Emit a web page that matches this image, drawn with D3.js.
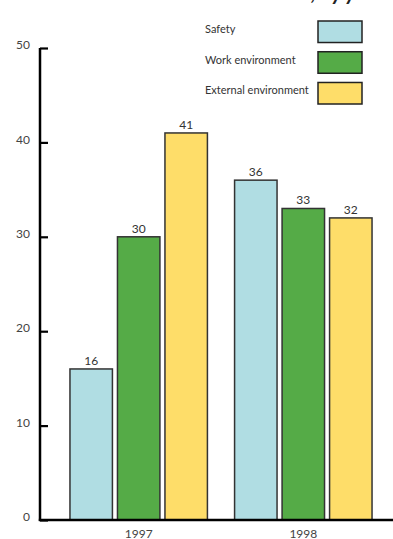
<!DOCTYPE html>
<html>
<head>
<meta charset="utf-8">
<script src="https://cdn.jsdelivr.net/npm/d3@7"></script>
<style>
  html, body { margin: 0; padding: 0; background: #fff; }
  svg { display: block; font-family: "Lato", "DejaVu Sans", sans-serif; }
</style>
</head>
<body>
<svg id="chart" width="393" height="539"></svg>
<script>
// Incidents per category, by year
const years = ["1997", "1998"];
const seriesNames = ["Safety", "Work environment", "External environment"];
const seriesColors = ["#b0dde3", "#55ab47", "#fedd69"];
const safety = [16, 36];
const workEnvironment = [30, 33];
const externalEnvironment = [41, 32];
const yTicks = [0, 10, 20, 30, 40, 50];

const seriesValues = [safety, workEnvironment, externalEnvironment];
const rows = years.map((yr, i) => ({
  year: yr,
  values: seriesNames.map((s, k) => ({ key: s, value: seriesValues[k][i], color: seriesColors[k] }))
}));

const svg = d3.select("#chart");
const axisX = 40, baseY = 520, topY = 48;

// Title (runs off the top edge)
svg.append("text")
  .attr("x", 384).attr("y", 0)
  .attr("text-anchor", "end")
  .attr("font-size", 21).attr("font-weight", "bold").attr("font-style", "italic")
  .attr("fill", "#222")
  .text("Incidents and accidents, by year");

const y = d3.scaleLinear().domain([0, 50]).range([baseY, topY]);
const x0 = d3.scaleBand().domain(years).range([53.5, 388.5]).paddingInner(0.165).paddingOuter(0.1);
const x1 = d3.scaleBand().domain(seriesNames).range([0, x0.bandwidth()]).paddingInner(0.106);

// Bars
const groups = svg.append("g").selectAll("g").data(rows).join("g")
  .attr("transform", d => `translate(${x0(d.year)},0)`);

groups.selectAll("rect").data(d => d.values).join("rect")
  .attr("x", d => x1(d.key))
  .attr("y", d => y(d.value))
  .attr("width", x1.bandwidth())
  .attr("height", d => y(0) - y(d.value))
  .attr("fill", d => d.color)
  .attr("stroke", "#333")
  .attr("stroke-width", 1.5);

groups.selectAll("text.val").data(d => d.values).join("text")
  .attr("class", "val")
  .attr("x", d => x1(d.key) + x1.bandwidth() / 2)
  .attr("y", d => y(d.value) - 4)
  .attr("text-anchor", "middle")
  .attr("font-size", 12)
  .attr("fill", "#333")
  .text(d => d.value);

// Y axis
const yAxis = d3.axisRight(y).tickValues(yTicks).tickSize(8).tickFormat("");
const yg = svg.append("g").attr("transform", `translate(${axisX},0)`).call(yAxis);
yg.select(".domain").attr("stroke", "#000").attr("stroke-width", 2.5).attr("d", `M0,${topY}V${baseY + 1}`);
yg.selectAll(".tick line").attr("stroke", "#000").attr("stroke-width", 2.2);

svg.append("g").selectAll("text").data(yTicks).join("text")
  .attr("x", 30).attr("y", d => y(d))
  .attr("dy", "0.1em")
  .attr("text-anchor", "end")
  .attr("font-size", 12)
  .attr("fill", "#444")
  .text(d => d);

// X axis
const xAxis = d3.axisBottom(x0).tickSize(0);
const xg = svg.append("g").attr("transform", `translate(0,${baseY})`).call(xAxis);
xg.select(".domain").attr("stroke", "#000").attr("stroke-width", 2.5).attr("d", `M${axisX - 1.2},0H393`);
xg.selectAll(".tick text")
  .attr("y", 9).attr("dy", "0.71em")
  .attr("font-size", 12).attr("fill", "#444")
  .attr("font-family", "Lato, 'DejaVu Sans', sans-serif");

// Legend
const legendY = d3.scaleBand().domain(seriesNames).range([21, 104]).paddingInner(0.3);
const lg = svg.append("g").selectAll("g").data(seriesNames).join("g")
  .attr("transform", d => `translate(0,${legendY(d)})`);
lg.append("rect")
  .attr("x", 318).attr("y", 0)
  .attr("width", 44).attr("height", legendY.bandwidth())
  .attr("fill", (d, i) => seriesColors[i])
  .attr("stroke", "#222").attr("stroke-width", 1.5);
lg.append("text")
  .attr("x", 205).attr("y", legendY.bandwidth() / 2)
  .attr("dy", "0.1em")
  .attr("font-size", 11).attr("fill", "#333")
  .text(d => d);
</script>
</body>
</html>
